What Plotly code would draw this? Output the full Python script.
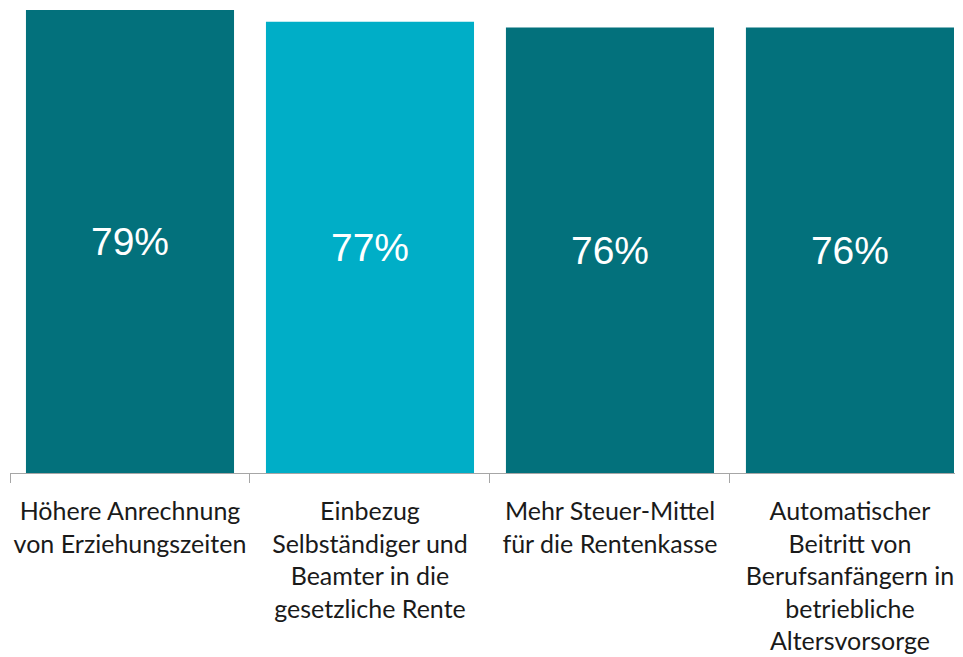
import plotly.graph_objects as go

categories = [
    "Höhere Anrechnung<br>von Erziehungszeiten",
    "Einbezug<br>Selbständiger und<br>Beamter in die<br>gesetzliche Rente",
    "Mehr Steuer-Mittel<br>für die Rentenkasse",
    "Automatischer<br>Beitritt von<br>Berufsanfängern in<br>betriebliche<br>Altersvorsorge",
]
values = [79, 77, 76, 76]
bar_colors = ["#03717C", "#00AEC7", "#03717C", "#03717C"]

fig = go.Figure(go.Bar(
    x=categories,
    y=values,
    marker=dict(color=bar_colors, line=dict(width=0)),
    text=[f"{v}%" for v in values],
    textposition="inside",
    insidetextanchor="middle",
    textfont=dict(family="Liberation Sans, Arial", size=39, color="white"),
    hoverinfo="x+y",
))

# page adds ~8px body margin, so the figure is a bit smaller than the window
fig.update_layout(
    width=955, height=649,
    margin=dict(l=2, r=0, t=0, b=184),
    plot_bgcolor="white", paper_bgcolor="white",
    bargap=0.133,
    showlegend=False,
    xaxis=dict(
        range=[-0.5, 3.471],
        automargin=False, tickangle=0,
        showline=True, linecolor="#A6A6A6", linewidth=1.3,
        ticks="outside", tickson="boundaries", ticklen=9, tickcolor="#A6A6A6",
        ticklabelstandoff=16,
        tickfont=dict(family="Lato, Open Sans", size=25, color="#1A1A1A"),
        showgrid=False,
    ),
    yaxis=dict(range=[0, 79.34], visible=False, showgrid=False, zeroline=False),
)

fig.write_html("out.html")
